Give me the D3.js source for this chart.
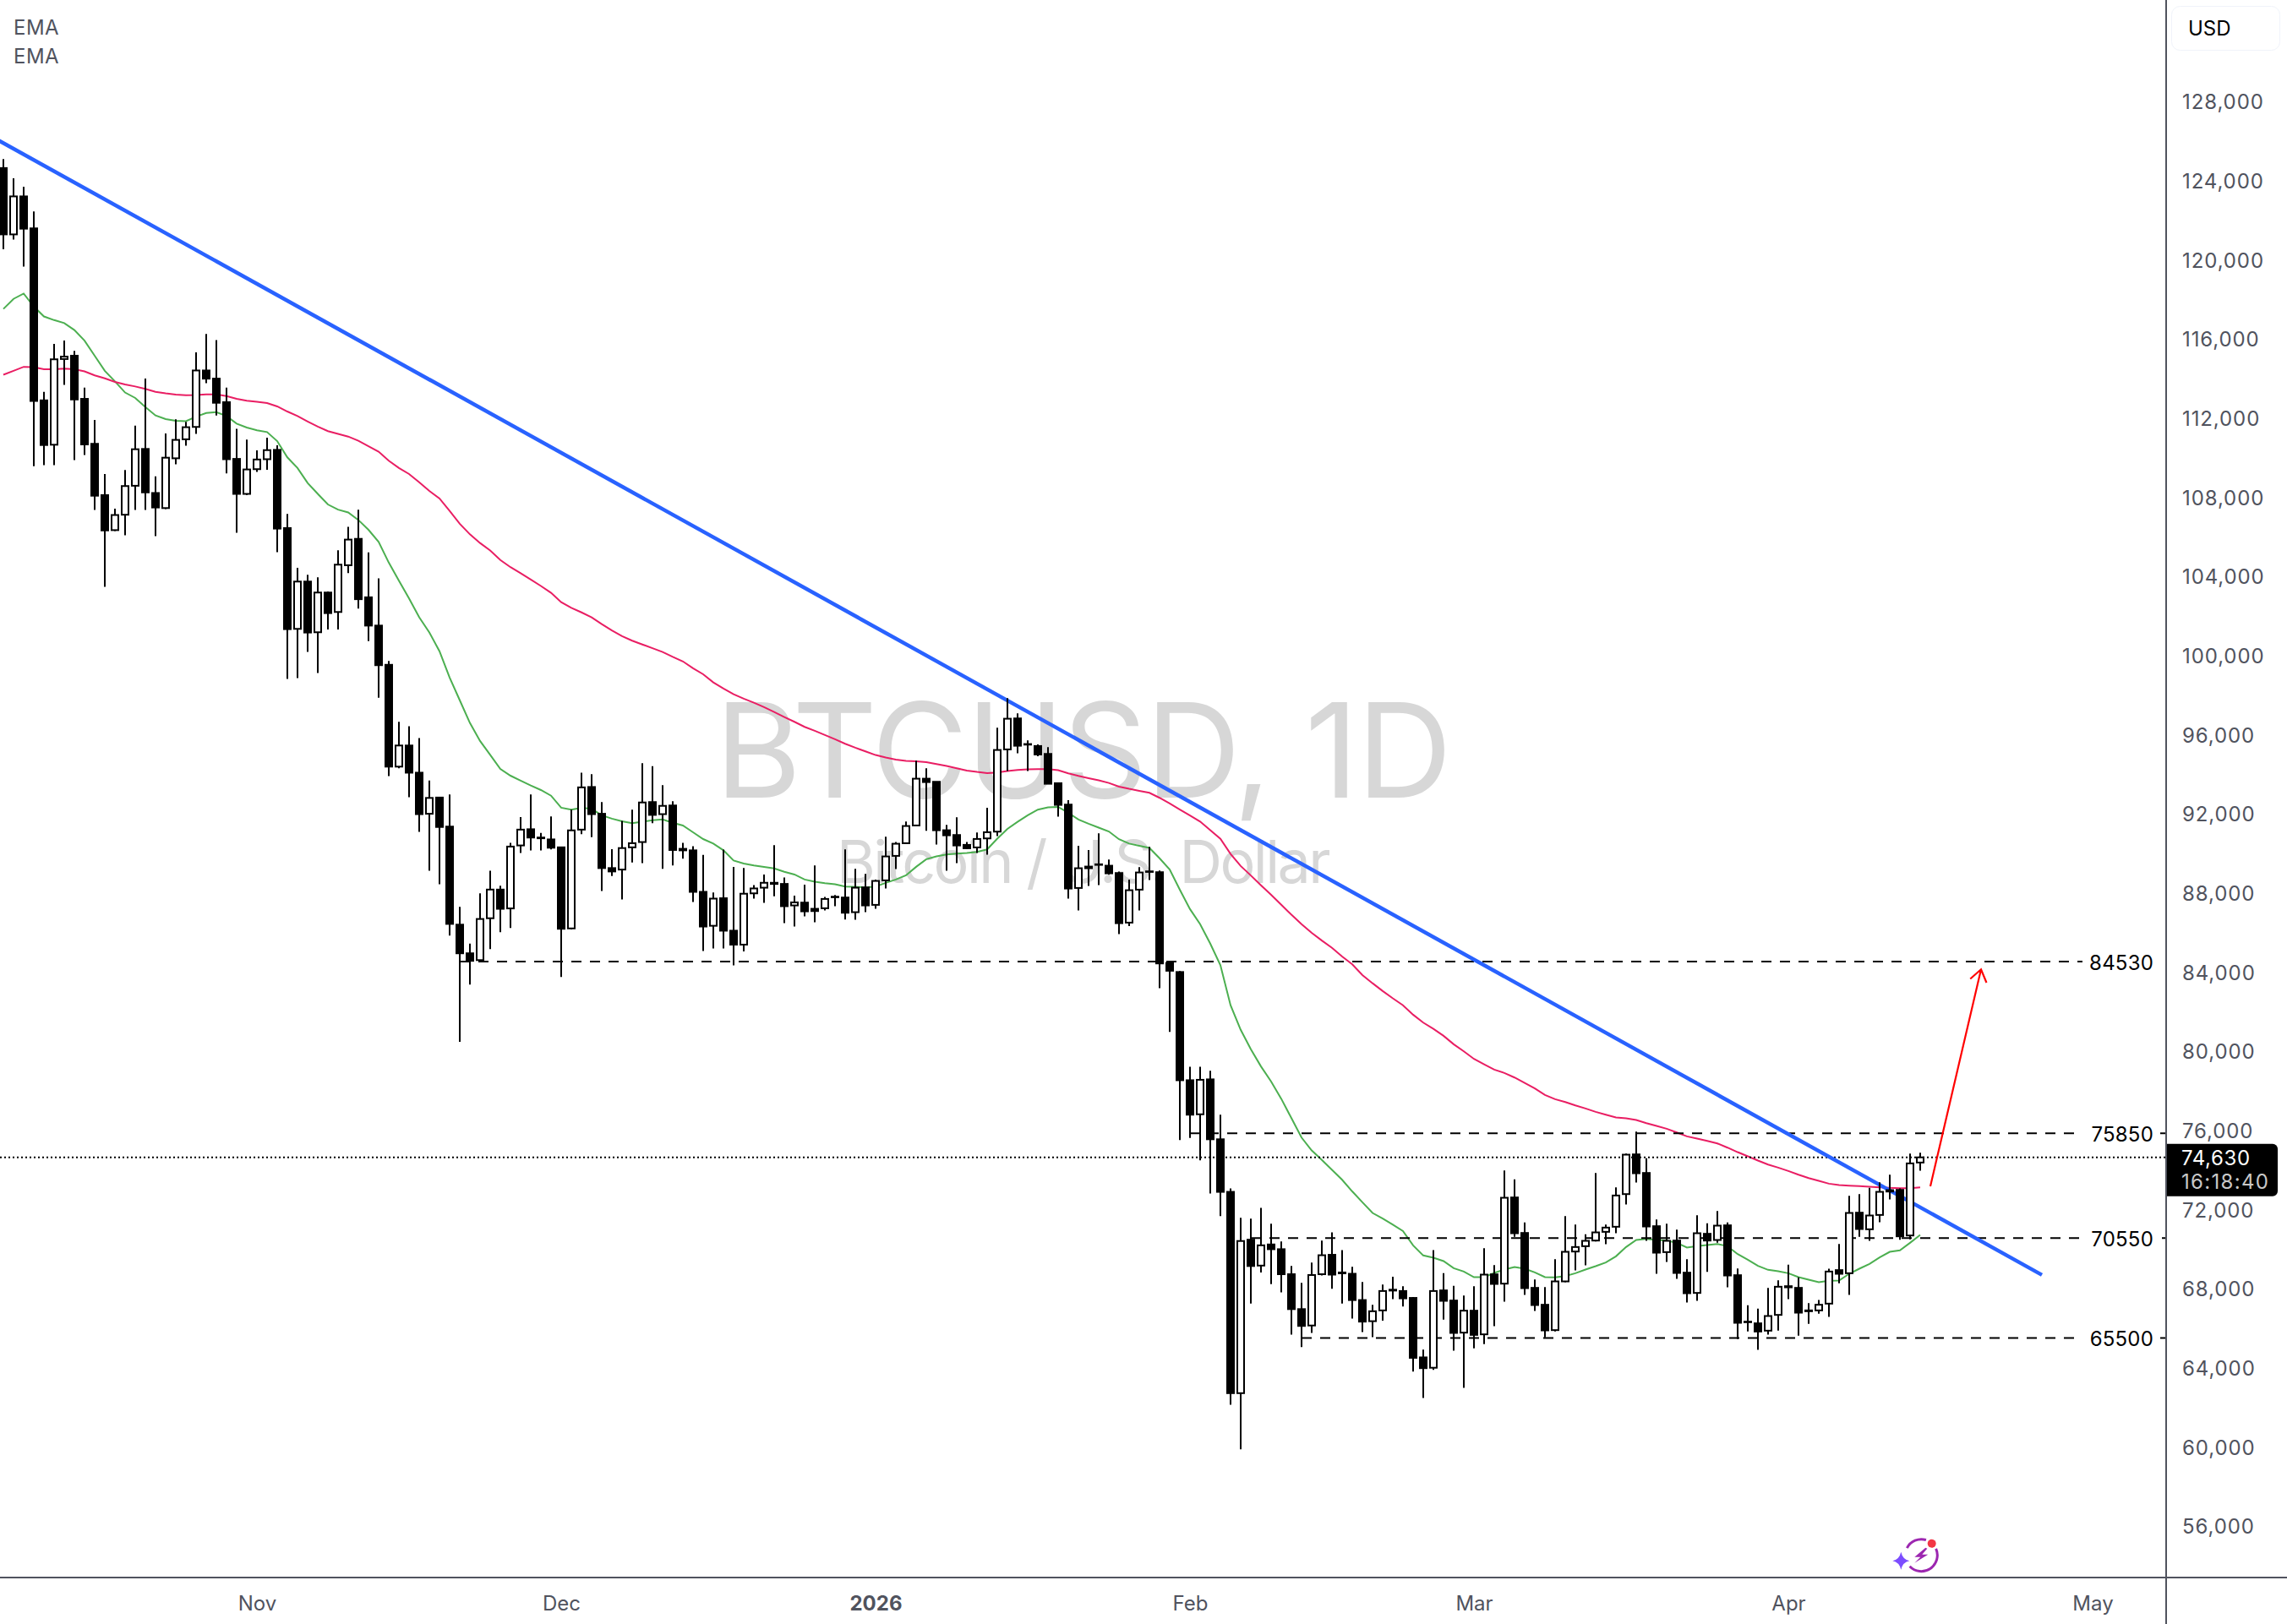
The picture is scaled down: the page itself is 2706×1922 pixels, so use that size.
<!DOCTYPE html>
<html>
<head>
<meta charset="utf-8">
<title>BTCUSD 1D</title>
<script src="https://cdn.jsdelivr.net/npm/d3@7/dist/d3.min.js"></script>
<style>
html,body{margin:0;padding:0;background:#fff}
svg{display:block}
text{font-family:Inter,"Noto Sans",sans-serif}
</style>
</head>
<body>
<svg id="chart" width="2706" height="1922"></svg>
<script>
// Daily BTC/USD session prices, one entry per day from the first session onward.
const firstSession = "2025-10-07";
const opens = [
124632,121278,123199,121583,112890,110648,114979,115147,112966,110694,
108101,106332,107110,108574,110435,108208,107446,109962,110923,111548,
114400,113988,112798,109931,108163,109413,109916,110389,106436,101341,
103732,101170,103177,102195,104557,105891,102936,101507,99525,94379,
95446,94073,91996,92816,91348,86392,84944,84600,86716,88165,
87212,90395,91214,90795,90700,90300,86202,91195,93349,91996,
89251,89175,90300,90567,92587,91977,92415,90224,90147,88050,
86335,87727,86087,85382,87974,88260,88508,88450,87364,87506,
87193,87221,87777,87763,87022,88275,87392,88631,89869,90509,
91406,93769,93612,91164,90922,90424,90296,90751,91093,95249,
96815,95519,95420,95021,93541,92459,88246,89328,89442,89371,
89000,86495,88161,89086,89043,84455,83998,78529,76808,78573,
75545,72887,62713,70469,69161,70229,69989,68725,66961,66133,
68725,69706,68813,68747,67419,66351,66896,67898,67876,67527,
64521,63998,67907,67394,65772,66882,65686,68718,68248,72604,
70810,68035,67181,65900,68362,69871,70141,70426,70867,71124,
72774,74781,73842,71152,69842,70426,68803,67779,70768,70455,
71195,68675,66327,66242,65872,66669,68120,68035,66853,66896,
67238,68932,68775,71835,70996,71721,72974,72988,70682,74369];
const highs = [
125090,124114,123687,122436,113317,115742,115910,115391,113530,111899,
109169,107415,109367,111609,113988,109047,111213,111930,111808,115315,
116245,115940,113530,111457,110907,110358,111000,110618,107148,104429,
104074,103945,103234,105312,106501,107358,105204,103889,99715,96647,
96418,95827,93673,92835,92968,87288,85439,87974,89118,88356,
90528,91824,92968,91024,91863,90300,92206,94074,93998,92587,
90205,91634,92206,94550,94398,93444,92625,90528,90357,89918,
88013,90185,89308,89251,88394,88927,90414,88775,87860,88417,
89385,87791,87890,90196,89214,88958,88673,90837,90566,91605,
94680,94295,93620,91435,91819,90566,91050,92303,96345,97839,
97071,95704,95505,95363,93550,92687,90381,90168,91007,89684,
89072,88673,89300,90324,89129,84499,84041,79205,79205,79009,
76786,73061,71580,71536,72081,71275,70381,69139,68290,69314,
70425,70839,69946,69096,68334,67179,68203,68595,68116,67571,
64913,69946,68775,68135,67651,68120,70042,69188,73970,73515,
71337,68462,68078,69487,71664,71237,70739,73842,71237,73116,
74824,75934,74582,71493,71280,70981,69487,71707,71294,71920,
71337,69017,67153,66982,68035,68419,69202,68562,67266,67423,
69003,70255,72689,72775,73088,73372,73756,73059,74824,74867];
const lows = [
120530,121018,119646,109566,109611,109611,113668,109870,110130,107354,
103465,106287,106073,107354,107354,106027,107400,109657,110603,111198,
113759,112127,109200,106195,108100,109276,109383,105219,98807,98850,
100174,99106,101312,101312,104156,102365,100726,97866,93902,94300,
92835,91082,89118,88432,85839,80465,83362,84543,85153,86011,
86221,90014,90147,90147,90200,83743,86145,90966,90814,88089,
88851,87669,89537,89499,91520,89213,89385,89728,87536,85058,
85191,85191,84334,85040,87707,87497,87822,86469,86297,86809,
86510,87108,87321,86652,86638,87022,87193,88218,89200,90495,
91400,91136,90438,89114,89499,90210,90011,89926,90865,94153,
95050,94153,94907,93500,91847,87705,87108,88346,88389,88915,
85912,86325,87108,88645,83179,80969,75501,75610,74477,72800,
71667,62125,59880,67244,68813,68225,67811,65676,65044,65763,
68660,67985,67244,66482,65806,65545,66373,67462,67092,63802,
62473,63889,66427,64861,62982,64975,65188,66099,67337,70611,
67679,66868,65530,65829,68320,68917,69173,70383,70241,70796,
72248,73358,70412,68747,69344,68490,67295,67380,68846,70312,
68063,65445,65829,64904,65672,65872,67466,65615,66213,66726,
66569,68263,67679,70611,70412,71351,72504,70469,70483,73956];
const closes = [
121278,123199,121567,112860,110633,114964,115101,112936,110664,108071,
106317,107095,108559,110420,108239,107476,109992,110892,111533,114400,
113988,112768,109916,108163,109398,109901,110374,106409,101327,103732,
101156,103177,102138,104586,105853,102841,101507,99506,94379,95446,
94073,91977,92797,91329,86430,84944,84563,86678,88165,87193,
90338,91195,90795,90757,90281,86183,91157,93330,91977,89251,
89080,90262,90509,92567,91939,92396,90166,90147,88050,86297,
87708,86087,85382,87955,88222,88508,88450,87325,87517,87065,
87079,87691,87805,86994,88260,87364,88602,89840,90481,91377,
93769,93598,91164,90908,90395,90253,90723,91064,95220,96800,
95434,95491,94993,93512,92445,88218,89243,89243,89414,88986,
86467,88132,89029,89058,84432,84063,78529,76787,78551,75545,
72887,62713,70403,69139,70185,69989,68725,66961,66111,68683,
69684,68704,68769,67419,66329,66853,67876,67942,67505,64499,
63977,67876,67380,65758,66882,65658,68704,68234,72589,70796,
68021,67167,65886,68362,69857,70099,70412,70839,71081,72703,
74767,73828,71138,69814,70412,68789,67764,70796,70426,71180,
68661,66270,66299,65829,66612,68092,68063,66782,66896,67181,
68860,68747,71821,71010,71693,72888,72903,70640,74326,74630];

// Short and long exponential averages, as plotted for each session.
const emaShort = [
117511,118019,118288,117632,117130,116947,116794,116443,115910,115147,
114385,113851,113286,113012,112554,112127,111944,111853,111838,112066,
112249,112295,112097,111716,111517,111380,111289,110831,110008,109474,
108712,108163,107628,107369,107225,106844,106348,105738,104690,103775,
102879,101926,101164,100211,98877,97733,96589,95675,94970,94264,
93921,93673,93425,93197,92911,92301,92206,92301,92244,91920,
91748,91615,91520,91596,91672,91710,91539,91405,91062,90719,
90490,90147,89633,89480,89385,89308,89232,89061,88927,88673,
88560,88488,88431,88318,88303,88275,88318,88503,88673,88887,
89314,89698,89840,89940,89983,90011,90068,90196,90737,91235,
91591,91918,92203,92317,92345,92046,91705,91491,91296,91100,
90708,90490,90381,90272,89749,89183,88159,87178,86416,85436,
84346,82320,81078,80098,79227,78464,77592,76612,75632,74978,
74499,73998,73497,72909,72364,71820,71536,71231,70905,70185,
69672,69558,69387,69031,68861,68576,68576,68789,68960,69088,
69003,68818,68576,68562,68633,68775,68960,69131,69316,69629,
70099,70455,70511,70455,70426,70312,70070,70141,70198,70255,
70141,69743,69458,69145,68946,68875,68775,68576,68448,68320,
68391,68405,68747,69003,69245,69572,69857,69928,70312,70711];
const emaLong = [
114186,114385,114583,114568,114461,114461,114491,114461,114354,114156,
114003,113821,113698,113592,113470,113317,113241,113180,113149,113165,
113195,113195,113104,112966,112875,112814,112753,112585,112326,112097,
111823,111563,111334,111197,111060,110846,110572,110297,109840,109474,
109169,108750,108311,107930,107301,106653,106119,105681,105300,104823,
104461,104156,103832,103508,103165,102689,102403,102174,101926,101583,
101259,100973,100745,100554,100363,100173,99925,99696,99353,99048,
98636,98323,98039,97811,97612,97384,97142,96886,96644,96388,
96188,95975,95761,95534,95334,95149,94964,94836,94737,94665,
94651,94608,94509,94409,94295,94182,94110,94053,94082,94153,
94210,94238,94253,94253,94196,94039,93911,93797,93683,93555,
93370,93256,93157,93057,92801,92516,92211,91906,91601,91165,
90730,89967,89357,88878,88377,87897,87396,86895,86416,85980,
85588,85218,84782,84390,83845,83431,83039,82669,82320,81841,
81442,81129,80774,80347,79991,79606,79336,79066,78895,78667,
78397,78112,77785,77571,77429,77258,77101,76930,76788,76646,
76603,76518,76361,76219,76077,75891,75692,75578,75465,75336,
75123,74895,74682,74468,74269,74112,73942,73757,73586,73443,
73301,73230,73201,73173,73145,73116,73088,73073,73073,73116];

// Horizontal levels and where each one begins.
const levelPrices = [84530, 75850, 70550, 65500];
const levelStarts = ["2025-11-21", "2026-02-01", "2026-02-07", "2026-02-12"];
const levelTicked = [false, true, true, true];

// Hand-drawn trend line and projected target arrow.
const trendDates = ["2025-10-06", "2026-04-26"];
const trendPrices = [126180, 68690];
const arrowDates = ["2026-04-15", "2026-04-20"];
const arrowPrices = [73170, 84130];

// Axis content.
const priceTicks = d3.range(56000, 128001, 4000);
const monthDates = ["2025-11-01","2025-12-01","2026-01-01","2026-02-01","2026-03-01","2026-04-01","2026-05-01"];
const monthLabels = ["Nov","Dec","2026","Feb","Mar","Apr","May"];
const legendLabels = ["EMA","EMA"];
const lastPrice = 74630;
const countdown = "16:18:40";

const day = s => new Date(s + "T00:00:00Z");
const sessions = opens.map((_, i) => d3.utcDay.offset(day(firstSession), i));

const PLOT_W = 2563, PLOT_H = 1866;
const x = d3.scaleUtc().domain([day("2025-11-01"), day("2026-05-01")]).range([304, 2476]);
const y = d3.scaleLinear().domain([56000, 128000]).range([1806, 120]);

const svg = d3.select("#chart");
svg.append("defs").append("clipPath").attr("id", "plot-clip")
  .append("rect").attr("width", PLOT_W).attr("height", PLOT_H);
const plot = svg.append("g").attr("clip-path", "url(#plot-clip)");

// Symbol watermark behind everything else.
const mark = plot.append("g").attr("fill", "#d7d7d7").attr("text-anchor", "middle");
mark.append("text").attr("x", 1281).attr("y", 944).attr("font-size", 156)
  .attr("letter-spacing", "-2").text("BTCUSD, 1D");
mark.append("text").attr("x", 1281).attr("y", 1045).attr("font-size", 70)
  .attr("letter-spacing", "-2.6").text("Bitcoin / U.S. Dollar");

// Exponential averages.
const lineGen = d3.line().x((_, i) => x(sessions[i])).y(d => y(d));
plot.append("path").datum(emaShort).attr("d", lineGen)
  .attr("fill", "none").attr("stroke", "#4caf50").attr("stroke-width", 2);
plot.append("path").datum(emaLong).attr("d", lineGen)
  .attr("fill", "none").attr("stroke", "#e91e63").attr("stroke-width", 2);

// Support and resistance levels.
plot.selectAll("line.level").data(levelPrices).join("line").attr("class", "level")
  .attr("x1", (_, i) => x(day(levelStarts[i]))).attr("x2", PLOT_W)
  .attr("y1", d => y(d)).attr("y2", d => y(d))
  .attr("stroke", "#000").attr("stroke-width", 2).attr("stroke-dasharray", "12 10");

// Last price line.
plot.append("line").attr("x1", 0).attr("x2", PLOT_W)
  .attr("y1", y(lastPrice)).attr("y2", y(lastPrice))
  .attr("stroke", "#000").attr("stroke-width", 2).attr("stroke-dasharray", "2 3");

// Trend line.
plot.append("line")
  .attr("x1", x(day(trendDates[0]))).attr("y1", y(trendPrices[0]))
  .attr("x2", x(day(trendDates[1]))).attr("y2", y(trendPrices[1]))
  .attr("stroke", "#2962ff").attr("stroke-width", 4.5);

// Candles: wick first, then a body that is solid for falling sessions, hollow for rising ones.
const candle = plot.selectAll("g.candle").data(d3.range(opens.length)).join("g").attr("class", "candle");
candle.append("line")
  .attr("x1", i => x(sessions[i])).attr("x2", i => x(sessions[i]))
  .attr("y1", i => y(highs[i])).attr("y2", i => y(lows[i]))
  .attr("stroke", "#000").attr("stroke-width", 2);
candle.append("rect")
  .attr("x", i => x(sessions[i]) - (closes[i] >= opens[i] ? 4 : 5))
  .attr("width", i => (closes[i] >= opens[i] ? 8 : 10))
  .attr("y", i => closes[i] >= opens[i] ? y(closes[i]) : y(opens[i]) - 1)
  .attr("height", i => {
    const h = Math.abs(y(opens[i]) - y(closes[i]));
    return closes[i] >= opens[i] ? h : Math.max(h + 2, 2);
  })
  .attr("fill", i => closes[i] >= opens[i] ? "#fff" : "#000")
  .attr("stroke", i => closes[i] >= opens[i] ? "#000" : "none")
  .attr("stroke-width", 2);

// Target arrow with an open head.
const ax1 = x(day(arrowDates[0])), ay1 = y(arrowPrices[0]);
const ax2 = x(day(arrowDates[1])), ay2 = y(arrowPrices[1]);
const heading = Math.atan2(ay2 - ay1, ax2 - ax1);
const headLen = 17, headSpread = 0.62;
const wing = s => [ax2 - headLen * Math.cos(heading + s * headSpread), ay2 - headLen * Math.sin(heading + s * headSpread)];
const [lx, ly] = wing(-1), [rx, ry] = wing(1);
plot.append("path")
  .attr("d", `M${ax1},${ay1}L${ax2},${ay2}M${lx},${ly}L${ax2},${ay2}L${rx},${ry}`)
  .attr("fill", "none").attr("stroke", "#ff0000").attr("stroke-width", 2.2);

// Level captions sit on a white patch that interrupts their dashes.
const levelLabels = svg.append("g").attr("font-size", 24).attr("fill", "#000");
levelPrices.forEach(p => {
  levelLabels.append("rect").attr("x", 2464).attr("width", 92)
    .attr("y", y(p) - 18).attr("height", 36).attr("fill", "#fff");
  levelLabels.append("text").attr("x", 2548).attr("y", y(p)).attr("dy", "0.4em")
    .attr("text-anchor", "end").attr("letter-spacing", "0.2").text(p);
});
levelPrices.forEach((p, i) => {
  if (!levelTicked[i]) levelLabels.append("rect").attr("x", 2556).attr("width", 7)
    .attr("y", y(p) - 2).attr("height", 4).attr("fill", "#fff");
});

// Price axis.
const yAxis = d3.axisRight(y).tickValues(priceTicks).tickSize(0).tickPadding(0).tickFormat(d3.format(","));
const yG = svg.append("g").attr("transform", "translate(2582,0)").call(yAxis);
yG.select(".domain").remove();
yG.selectAll("text").attr("font-size", 24).attr("fill", "#50535e")
  .attr("font-family", 'Inter,"Noto Sans",sans-serif').attr("dy", "0.37em").attr("letter-spacing", "0.9");

// Time axis.
const xAxis = d3.axisBottom(x).tickValues(monthDates.map(day)).tickSize(0).tickPadding(0)
  .tickFormat((_, i) => monthLabels[i]);
const xG = svg.append("g").attr("transform", `translate(0,${PLOT_H})`).call(xAxis);
xG.select(".domain").remove();
xG.selectAll("text").attr("font-size", 24).attr("fill", "#50535e")
  .attr("font-family", 'Inter,"Noto Sans",sans-serif').attr("dy", "0").attr("y", 40)
  .attr("font-weight", (_, i) => monthLabels[i] === "2026" ? 700 : 400);

// Pane borders.
svg.append("line").attr("x1", PLOT_W).attr("x2", PLOT_W).attr("y1", 0).attr("y2", 1922)
  .attr("stroke", "#50535e").attr("stroke-width", 2);
svg.append("line").attr("x1", 0).attr("x2", 2706).attr("y1", PLOT_H + 1).attr("y2", PLOT_H + 1)
  .attr("stroke", "#50535e").attr("stroke-width", 2);

// Last price tag with countdown to the next session.
const tagTop = y(lastPrice) - 16, tagH = 62, tagL = 2564, tagW = 131, r = 6;
svg.append("path")
  .attr("d", `M${tagL},${tagTop}h${tagW - r}a${r},${r} 0 0 1 ${r},${r}v${tagH - 2 * r}a${r},${r} 0 0 1 ${-r},${r}h${-(tagW - r)}z`)
  .attr("fill", "#000");
svg.append("text").attr("x", 2581).attr("y", y(lastPrice)).attr("dy", "0.37em")
  .attr("font-size", 24).attr("letter-spacing", "0.6").attr("fill", "#fff").text(d3.format(",")(lastPrice));
svg.append("text").attr("x", 2581).attr("y", y(lastPrice) + 28).attr("dy", "0.37em")
  .attr("font-size", 24).attr("letter-spacing", "1.3").attr("fill", "#c8c8c8").text(countdown);

// Currency button.
svg.append("rect").attr("x", 2569.5).attr("y", 7.5).attr("width", 128).attr("height", 52).attr("rx", 10)
  .attr("fill", "#fff").attr("stroke", "#f0f3fa").attr("stroke-width", 1);
svg.append("text").attr("x", 2589).attr("y", 33).attr("dy", "0.37em")
  .attr("font-size", 24).attr("fill", "#000").text("USD");

// Indicator legend.
svg.selectAll("text.legend").data(legendLabels).join("text").attr("class", "legend")
  .attr("x", 16).attr("y", (_, i) => 32 + 34 * i).attr("dy", "0.37em")
  .attr("font-size", 24).attr("letter-spacing", "0.5").attr("fill", "#50535e").text(d => d);

// Assistant badge in the bottom corner of the pane.
const badge = svg.append("g").attr("transform", "translate(2273.3,1840.7)");
const ringArc = d3.arc().innerRadius(17.5).outerRadius(20.5);
[[-1.1, 0.3], [1.15, 3.95]].forEach(([a, b]) => {
  badge.append("path").attr("d", ringArc({startAngle: a, endAngle: b})).attr("fill", "#9c27b0");
});
badge.append("path").attr("d", "M5,-9 L-8,2 L-1,2 L-8,9 L8,-1 L1,-1 L7,-8 Z").attr("fill", "#9c27b0");
badge.append("circle").attr("cx", 12.4).attr("cy", -14).attr("r", 5).attr("fill", "#f23645");
badge.append("path").attr("d", "M-24,-4 Q-22,5 -14,6.5 Q-22,8 -24,17 Q-26,8 -34,6.5 Q-26,5 -24,-4 Z").attr("fill", "#7c4dff");
</script>
</body>
</html>
